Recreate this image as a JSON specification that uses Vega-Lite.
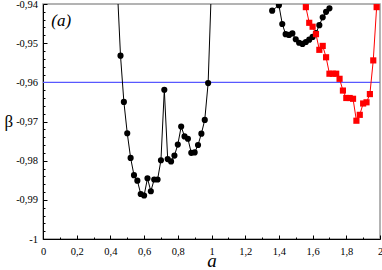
{
  "$schema": "https://vega.github.io/schema/vega-lite/v6.json",
  "width": 337,
  "height": 235,
  "autosize": "none",
  "padding": {"left": 43, "top": 4, "right": 2, "bottom": 31},
  "config": {
    "view": {"stroke": "#9a9a9a", "strokeWidth": 1.5},
    "font": "Liberation Serif",
    "axis": {"grid": false, "labelFont": "Liberation Serif", "titleFont": "Liberation Serif", "labelColor": "#000", "titleColor": "#000", "tickColor": "#000", "domainColor": "#000"}
  },
  "datasets": {
    "black": [
      {"seg": 1, "a": 0.44, "b": -0.935},
      {"seg": 1, "a": 0.46, "b": -0.9532},
      {"seg": 1, "a": 0.48, "b": -0.965},
      {"seg": 1, "a": 0.50, "b": -0.973},
      {"seg": 1, "a": 0.52, "b": -0.9793},
      {"seg": 1, "a": 0.54, "b": -0.9837},
      {"seg": 1, "a": 0.56, "b": -0.9851},
      {"seg": 1, "a": 0.58, "b": -0.9885},
      {"seg": 1, "a": 0.60, "b": -0.9889},
      {"seg": 1, "a": 0.62, "b": -0.9845},
      {"seg": 1, "a": 0.64, "b": -0.9878},
      {"seg": 1, "a": 0.66, "b": -0.9848},
      {"seg": 1, "a": 0.68, "b": -0.9848},
      {"seg": 1, "a": 0.70, "b": -0.9799},
      {"seg": 1, "a": 0.72, "b": -0.9619},
      {"seg": 1, "a": 0.74, "b": -0.9796},
      {"seg": 1, "a": 0.76, "b": -0.9802},
      {"seg": 1, "a": 0.78, "b": -0.9787},
      {"seg": 1, "a": 0.80, "b": -0.9759},
      {"seg": 1, "a": 0.82, "b": -0.9713},
      {"seg": 1, "a": 0.84, "b": -0.9738},
      {"seg": 1, "a": 0.86, "b": -0.9744},
      {"seg": 1, "a": 0.88, "b": -0.978},
      {"seg": 1, "a": 0.90, "b": -0.9779},
      {"seg": 1, "a": 0.92, "b": -0.976},
      {"seg": 1, "a": 0.94, "b": -0.9731},
      {"seg": 1, "a": 0.96, "b": -0.9696},
      {"seg": 1, "a": 0.98, "b": -0.9602},
      {"seg": 1, "a": 1.00, "b": -0.935},
      {"seg": 2, "a": 1.36, "b": -0.9417},
      {"seg": 2, "a": 1.40, "b": -0.9403},
      {"seg": 2, "a": 1.42, "b": -0.9451},
      {"seg": 2, "a": 1.44, "b": -0.9477},
      {"seg": 2, "a": 1.46, "b": -0.9479},
      {"seg": 2, "a": 1.48, "b": -0.9475},
      {"seg": 2, "a": 1.50, "b": -0.949},
      {"seg": 2, "a": 1.52, "b": -0.9499},
      {"seg": 2, "a": 1.54, "b": -0.9502},
      {"seg": 2, "a": 1.56, "b": -0.9497},
      {"seg": 2, "a": 1.58, "b": -0.9491},
      {"seg": 2, "a": 1.60, "b": -0.9484},
      {"seg": 2, "a": 1.62, "b": -0.9474},
      {"seg": 2, "a": 1.64, "b": -0.9454},
      {"seg": 2, "a": 1.66, "b": -0.9434},
      {"seg": 2, "a": 1.68, "b": -0.942},
      {"seg": 2, "a": 1.70, "b": -0.9411}
    ],
    "red": [
      {"a": 1.56, "b": -0.9408},
      {"a": 1.58, "b": -0.9448},
      {"a": 1.60, "b": -0.9458},
      {"a": 1.62, "b": -0.9477},
      {"a": 1.64, "b": -0.9517},
      {"a": 1.66, "b": -0.9507},
      {"a": 1.68, "b": -0.9536},
      {"a": 1.70, "b": -0.9578},
      {"a": 1.72, "b": -0.9578},
      {"a": 1.74, "b": -0.9578},
      {"a": 1.76, "b": -0.9591},
      {"a": 1.78, "b": -0.9621},
      {"a": 1.80, "b": -0.964},
      {"a": 1.82, "b": -0.964},
      {"a": 1.84, "b": -0.9642},
      {"a": 1.86, "b": -0.9698},
      {"a": 1.88, "b": -0.9683},
      {"a": 1.90, "b": -0.9654},
      {"a": 1.92, "b": -0.9651},
      {"a": 1.94, "b": -0.963},
      {"a": 1.96, "b": -0.9544},
      {"a": 1.98, "b": -0.9408}
    ],
    "ref": [{"b": -0.96}],
    "note": [{"a": 0.108, "b": -0.9455, "t": "(a)"}]
  },
  "resolve": {"axis": {"x": "independent", "y": "independent"}},
  "layer": [
    {
      "data": {"name": "ref"},
      "mark": {"type": "rule", "color": "#5858ff", "strokeWidth": 1.3},
      "encoding": {
        "y": {"field": "b", "type": "quantitative", "axis": null, "scale": {"domain": [-1, -0.94], "nice": false, "zero": false}}
      }
    },
    {
      "data": {"name": "black"},
      "mark": {"type": "line", "color": "#000", "strokeWidth": 1, "clip": true},
      "encoding": {
        "x": {"field": "a", "type": "quantitative", "scale": {"domain": [0, 2], "nice": false, "zero": false},
          "axis": {"orient": "bottom", "values": [0, 0.2, 0.4, 0.6, 0.8, 1, 1.2, 1.4, 1.6, 1.8, 2],
            "labelExpr": "replace(toString(datum.value), '.', ',')", "tickSize": -4, "labelPadding": 11,
            "labelFont": "Liberation Serif", "labelFontSize": 10.5, "labelFlush": false, "labelOverlap": false,
            "title": "a", "titleFont": "Liberation Serif", "titleFontSize": 19, "titleFontStyle": "italic", "titleFontWeight": "normal", "titleBaseline": "alphabetic", "titlePadding": 9.5}},
        "y": {"field": "b", "type": "quantitative", "scale": {"domain": [-1, -0.94], "nice": false, "zero": false},
          "axis": {"orient": "left", "values": [-1, -0.99, -0.98, -0.97, -0.96, -0.95, -0.94],
            "labelExpr": "replace(toString(datum.value), '.', ',')", "tickSize": -4, "labelPadding": 9.5,
            "labelFont": "Liberation Serif", "labelFontSize": 10.5, "labelFlush": false, "labelOverlap": false,
            "title": "β", "titleFont": "Liberation Serif", "titleAngle": 0, "titleAlign": "right", "titleFontSize": 17, "titleFontWeight": "normal", "titleBaseline": "middle", "titlePadding": 3}},
        "detail": {"field": "seg"}
      }
    },
    {
      "data": {"name": "black"},
      "mark": {"type": "point", "shape": "circle", "filled": true, "color": "#000", "opacity": 1, "size": 38, "clip": true},
      "encoding": {
        "x": {"field": "a", "type": "quantitative",
          "axis": {"orient": "bottom", "values": [0.1, 0.3, 0.5, 0.7, 0.9, 1.1, 1.3, 1.5, 1.7, 1.9], "labels": false, "domain": false, "tickSize": -2, "title": null}},
        "y": {"field": "b", "type": "quantitative",
          "axis": {"orient": "left", "values": [-0.998, -0.996, -0.994, -0.992, -0.988, -0.986, -0.984, -0.982, -0.978, -0.976, -0.974, -0.972, -0.968, -0.966, -0.964, -0.962, -0.958, -0.956, -0.954, -0.952, -0.948, -0.946, -0.944, -0.942], "labels": false, "domain": false, "tickSize": -2, "title": null}}
      }
    },
    {
      "data": {"name": "red"},
      "mark": {"type": "line", "color": "#ff0000", "strokeWidth": 1, "clip": true},
      "encoding": {
        "x": {"field": "a", "type": "quantitative", "axis": null},
        "y": {"field": "b", "type": "quantitative", "axis": null}
      }
    },
    {
      "data": {"name": "red"},
      "mark": {"type": "point", "shape": "square", "filled": true, "color": "#ff0000", "opacity": 1, "size": 38, "clip": true},
      "encoding": {
        "x": {"field": "a", "type": "quantitative", "axis": null},
        "y": {"field": "b", "type": "quantitative", "axis": null}
      }
    },
    {
      "data": {"name": "note"},
      "mark": {"type": "text", "font": "Liberation Serif", "fontSize": 17, "fontStyle": "italic", "align": "center", "baseline": "alphabetic", "color": "#000"},
      "encoding": {
        "x": {"field": "a", "type": "quantitative", "axis": null},
        "y": {"field": "b", "type": "quantitative", "axis": null},
        "text": {"field": "t"}
      }
    }
  ]
}
